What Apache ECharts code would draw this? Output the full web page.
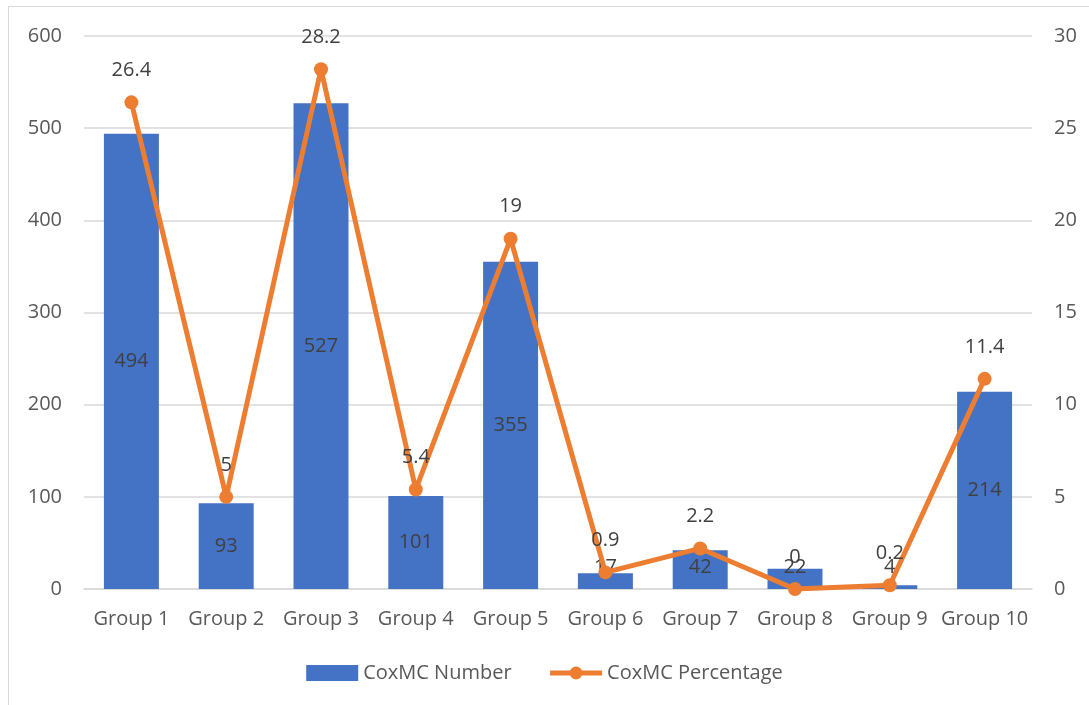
<!DOCTYPE html>
<html>
<head>
<meta charset="utf-8">
<script src="https://cdn.jsdelivr.net/npm/echarts@6/dist/echarts.min.js"></script>
<style>
  html, body { margin: 0; padding: 0; background: #ffffff; }
  #frame { position: absolute; left: 8px; top: 6px; width: 1100px; height: 720px; border: 1.5px solid #d9d9d9; box-sizing: border-box; }
  #chart { position: absolute; left: 0; top: 0; width: 1089px; height: 705px; }
</style>
</head>
<body>
<div id="frame"></div>
<div id="chart"></div>
<script>
const categories = ['Group 1', 'Group 2', 'Group 3', 'Group 4', 'Group 5', 'Group 6', 'Group 7', 'Group 8', 'Group 9', 'Group 10'];
const coxmcNumber = [494, 93, 527, 101, 355, 17, 42, 22, 4, 214];
const coxmcPercentage = [26.4, 5, 28.2, 5.4, 19, 0.9, 2.2, 0, 0.2, 11.4];
const leftTicks = [0, 100, 200, 300, 400, 500, 600];
const rightTicks = [0, 5, 10, 15, 20, 25, 30];

const FONT = 'Open Sans';
const FS = 20;
const TEXT = '#595959';
const LABEL = '#404040';

// Short bars keep their value label resting just above the baseline
const barData = coxmcNumber.map(v => v < 60
  ? { value: v, label: { position: 'insideBottom', distance: 12 } }
  : { value: v });

const chart = echarts.init(document.getElementById('chart'), null, { renderer: 'canvas' });
chart.setOption({
  animation: false,
  textStyle: { fontFamily: FONT },
  grid: { left: 84, right: 57, top: 36, bottom: 116, containLabel: false },
  legend: {
    bottom: 17,
    left: 'center',
    itemGap: 36,
    itemWidth: 52,
    itemHeight: 16,
    textStyle: { fontFamily: FONT, fontSize: FS, color: TEXT },
    data: [
      { name: 'CoxMC Number', icon: 'rect', itemStyle: { color: '#4472C4' } },
      { name: 'CoxMC Percentage', lineStyle: { width: 5, color: '#ED7D31' } }
    ]
  },
  xAxis: {
    type: 'category',
    data: categories,
    axisTick: { show: false },
    axisLine: { lineStyle: { color: '#d9d9d9', width: 1.5 } },
    axisLabel: { color: TEXT, fontSize: FS, fontFamily: FONT, margin: 20, interval: 0 }
  },
  yAxis: [
    {
      type: 'value',
      min: leftTicks[0],
      max: leftTicks[leftTicks.length - 1],
      interval: leftTicks[1] - leftTicks[0],
      axisLine: { show: false },
      axisTick: { show: false },
      splitLine: { lineStyle: { color: '#d9d9d9', width: 1.5 } },
      axisLabel: { color: TEXT, fontSize: FS, fontFamily: FONT, margin: 22 }
    },
    {
      type: 'value',
      min: rightTicks[0],
      max: rightTicks[rightTicks.length - 1],
      interval: rightTicks[1] - rightTicks[0],
      axisLine: { show: false },
      axisTick: { show: false },
      splitLine: { show: false },
      axisLabel: { color: TEXT, fontSize: FS, fontFamily: FONT, margin: 22 }
    }
  ],
  series: [
    {
      name: 'CoxMC Number',
      type: 'bar',
      yAxisIndex: 0,
      data: barData,
      barCategoryGap: '42%',
      itemStyle: { color: '#4472C4' },
      label: {
        show: true,
        position: 'inside',
        color: LABEL,
        fontSize: FS,
        fontFamily: FONT
      }
    },
    {
      name: 'CoxMC Percentage',
      type: 'line',
      yAxisIndex: 1,
      data: coxmcPercentage,
      symbol: 'circle',
      symbolSize: 14,
      lineStyle: { color: '#ED7D31', width: 5 },
      itemStyle: { color: '#ED7D31' },
      label: {
        show: true,
        position: 'top',
        distance: 15,
        color: LABEL,
        fontSize: FS,
        fontFamily: FONT
      },
      z: 3
    }
  ]
});
</script>
</body>
</html>
